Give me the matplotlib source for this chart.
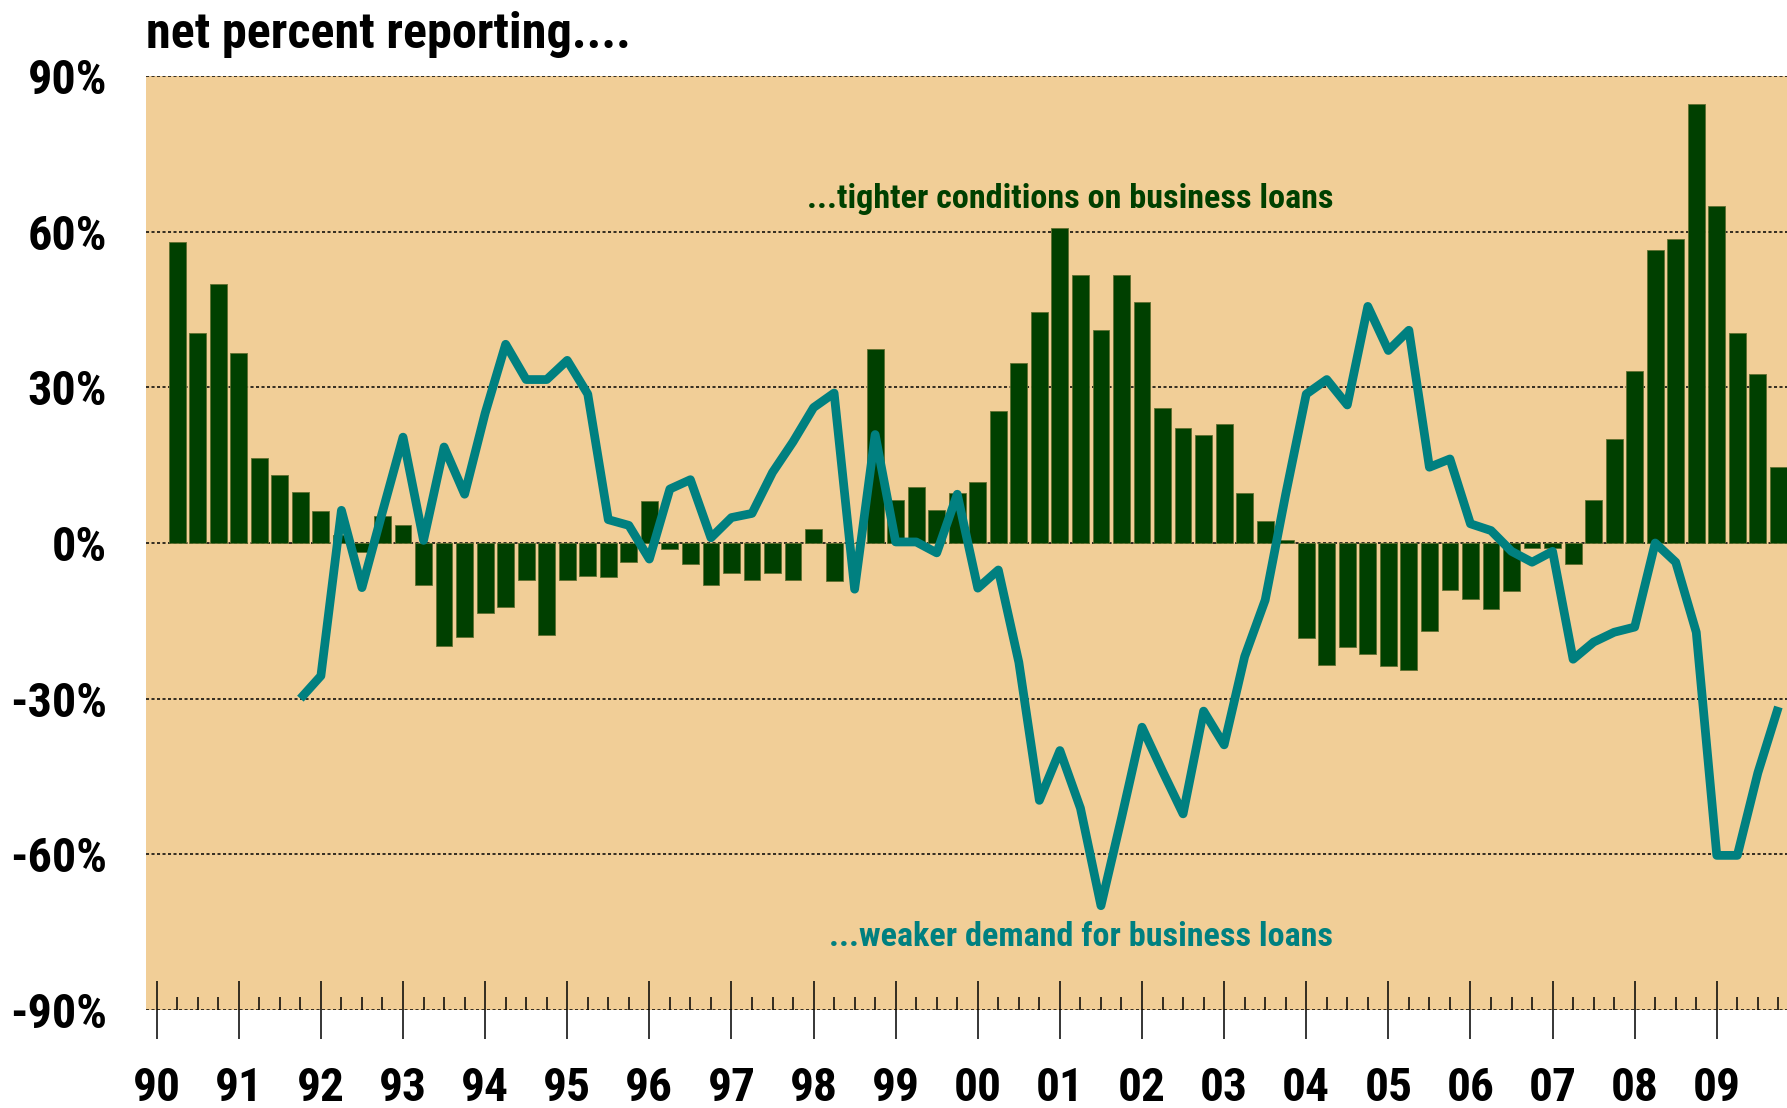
import numpy as np
import matplotlib
matplotlib.use("Agg")
import matplotlib.pyplot as plt
from matplotlib import font_manager

# quarterly categories, 1990Q1 .. 2009Q4
quarters = [f"{y}Q{q}" for y in range(1990, 2010) for q in range(1, 5)]
year_labels = ["90", "91", "92", "93", "94", "95", "96", "97", "98", "99",
               "00", "01", "02", "03", "04", "05", "06", "07", "08", "09"]
ytick_labels = ["-90%", "-60%", "-30%", "0%", "30%", "60%", "90%"]

# net percent of banks tightening standards on business loans (bars)
tighten = [np.nan,
           58, 40.5, 50, 36.7, 16.4, 13.2, 9.8, 6.1, 1.5, -1.8,
           5.2, 3.5, -8.0, -19.9, -18.1, -13.4, -12.3, -7.1, -17.7, -7.1,
           -6.3, -6.6, -3.7, 8.0, -1.1, -4.0, -8.0, -5.8, -7.1, -5.8,
           -7.1, 2.7, -7.3, 0, 37.4, 8.2, 10.8, 6.3, 9.7, 11.7,
           25.4, 34.7, 44.6, 60.8, 51.7, 41.1, 51.7, 46.5, 26.0, 22.1,
           20.9, 22.9, 9.7, 4.2, 0.6, -18.3, -23.5, -20.1, -21.4, -23.8,
           -24.4, -17.0, -9.0, -10.8, -12.7, -9.2, -0.9, -0.9, -4.0, 8.2,
           20.0, 33.1, 56.4, 58.5, 84.6, 65.0, 40.5, 32.5, 14.7]

# net percent reporting stronger demand for business loans (line)
demand = [np.nan] * 7 + [
    -30, -25.6, 6.3, -8.6, 6, 20.4, 0.5, 18.5, 9.4, 25,
    38.3, 31.5, 31.5, 35.2, 28.7, 4.5, 3.4, -3.1, 10.4, 12.2,
    1.0, 4.9, 5.7, 13.6, 19.5, 26.1, 28.9, -8.9, 20.9, 0.2,
    0.2, -1.9, 9.4, -8.7, -5.2, -23.0, -49.6, -40.0, -51.1, -69.9,
    -53, -35.5, -44, -52.2, -32.4, -38.9, -21.9, -11.0, 9.4, 28.7,
    31.5, 26.6, 45.6, 37.1, 41.0, 14.6, 16.2, 3.7, 2.4, -1.6,
    -3.7, -1.6, -22.4, -19.1, -17.2, -16.2, 0.0, -3.7, -17.2, -60.2,
    -60.2, -44.3, -31.6]

x = np.arange(len(quarters))

# the original uses a narrow sans; take one if installed, else Liberation Sans
installed = {f.name for f in font_manager.fontManager.ttflist}
family = "Liberation Sans"
for name in ["Liberation Sans Narrow", "Roboto Condensed", "Open Sans Condensed",
             "Arial Narrow"]:
    if name in installed:
        family = name
        break
fonts = [family, "DejaVu Sans"]

fig = plt.figure(figsize=(17.87, 11.08), dpi=100)
renderer = fig.canvas.get_renderer()


def fit_size(s, target_px):
    # font size (pt) that makes the string about target_px wide
    t = fig.text(0, 0, s, family=fonts, fontweight="bold", fontsize=40)
    w = t.get_window_extent(renderer=renderer).width
    t.remove()
    return 40 * target_px / w


tick_fs = min(fit_size("-90%", 97), 37)
xlab_fs = min(fit_size("90", 48), 37)
title_fs = min(fit_size("net percent reporting....", 484), 37)
note_fs = min(fit_size("...tighter conditions on business loans", 525), 25)

ax = fig.add_axes([146 / 1787, 1 - 1010 / 1108, 1 - 146 / 1787, 934 / 1108])
ax.set_facecolor("#F1CE97")

ax.bar(x, tighten, width=0.82, color="#004000", edgecolor="#5f6f30",
       linewidth=0.6, zorder=2)
ax.plot(x, demand, color="#008080", lw=6.3, zorder=3,
        solid_joinstyle="round", solid_capstyle="butt")

ax.set_xlim(-0.52, 79.42)
ax.set_ylim(-90, 90)

ax.set_yticks(range(-90, 91, 30))
ax.set_yticklabels(ytick_labels, family=fonts, fontweight="bold", fontsize=tick_fs)
ax.yaxis.grid(True, linestyle=(0, (2, 1.6)), color="black", lw=1.1)
ax.set_axisbelow(True)
ax.tick_params(axis="y", length=0, pad=28)

ax.set_xticks(x[::4])
ax.set_xticklabels(year_labels, family=fonts, fontweight="bold", fontsize=xlab_fs)
ax.set_xticks([k for k in x if k % 4], minor=True)
ax.tick_params(axis="x", which="major", direction="inout", length=42,
               width=1.1, color="black", pad=19.5)
ax.tick_params(axis="x", which="minor", direction="in", length=9.5,
               width=1.1, color="black")

for s in ax.spines.values():
    s.set_visible(False)

fig.text(146 / 1787, 1 - 48 / 1108, "net percent reporting....",
         family=fonts, fontweight="bold", fontsize=title_fs, va="baseline")

ax.text(0.7234, 0.868, "...tighter conditions on business loans",
        transform=ax.transAxes, ha="right", va="center", color="#004000",
        family=fonts, fontweight="bold", fontsize=note_fs)
ax.text(0.7234, 0.078, "...weaker demand for business loans",
        transform=ax.transAxes, ha="right", va="center", color="#008080",
        family=fonts, fontweight="bold", fontsize=note_fs)

fig.savefig("out.png", dpi=100)
